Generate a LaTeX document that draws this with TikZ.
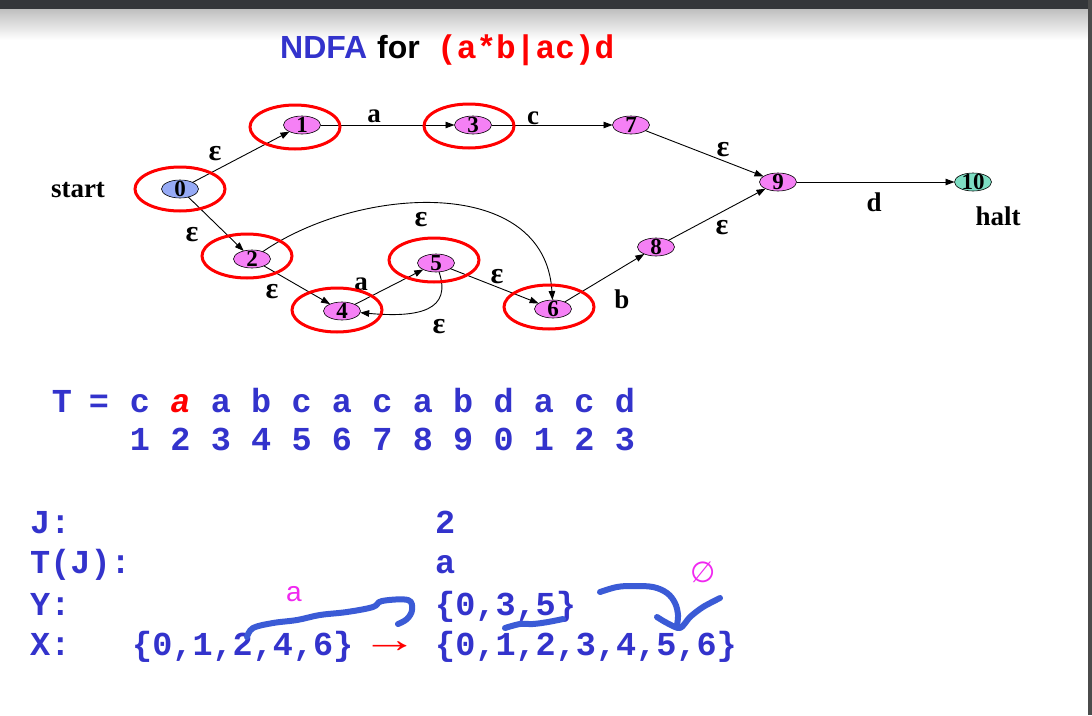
\documentclass[tikz,border=0pt]{standalone}
\usepackage{fontspec}
\setmainfont{Liberation Serif}
\newfontfamily\sansf{Liberation Sans}
\newfontfamily\monof{Liberation Mono}
\newfontfamily\dejavu{DejaVu Sans}
\usetikzlibrary{shapes.geometric,arrows.meta}

\definecolor{tblue}{RGB}{51,51,204}
\definecolor{penblue}{RGB}{59,91,214}
\definecolor{stfill}{RGB}{245,128,245}
\definecolor{startfill}{RGB}{150,170,245}
\definecolor{haltfill}{RGB}{125,222,195}
\definecolor{mag}{RGB}{240,40,240}
\definecolor{topbar}{RGB}{52,54,58}
\definecolor{sidebar}{RGB}{75,75,75}

% state number centred in a zero-size box so the ellipse keeps its size
\newcommand{\numtxt}[1]{\makebox[0pt]{\raisebox{-0.34em}[0pt][0pt]{#1}}}

\tikzset{
  state/.style={ellipse, draw=black, line width=0.6pt, fill=stfill,
    minimum width=37pt, minimum height=18pt, inner sep=0pt, outer sep=0pt,
    font=\fontsize{23}{23}\selectfont\bfseries, text=black},
  ring/.style={ellipse, draw=red, line width=3pt, minimum width=90pt,
    minimum height=44pt, inner sep=0pt},
  arr/.style={line width=0.9pt, -{Triangle[length=9pt,width=6.5pt]}},
  lbl/.style={font=\fontsize{27}{27}\selectfont\bfseries, inner sep=0pt},
  eps/.style={font=\fontsize{30}{30}\selectfont\bfseries, inner sep=0pt},
  mono/.style={font=\fontsize{33.5}{33.5}\monof\bfseries, text=tblue, inner sep=0pt},
  pen/.style={penblue, line width=6pt, line cap=round, line join=round},
}

\begin{document}
\begin{tikzpicture}[x=1pt,y=-1pt]
\useasboundingbox (0,0) rectangle (1092,715);

% window frame
\fill[white] (0,0) rectangle (1092,715);
\shade[top color=black!25, bottom color=white] (0,9) rectangle (1088,40);
\fill[topbar] (0,0) rectangle (1092,9);
\fill[sidebar] (1088,0) rectangle (1092,715);

% title
\node[anchor=base west, inner sep=0pt, text=tblue,
  font=\fontsize{32}{32}\sansf\bfseries] (tN) at (280,58.5) {NDFA};
\node[anchor=base west, inner sep=0pt, text=black,
  font=\fontsize{32}{32}\sansf\bfseries] (tF) at (377,58.5) {for};
\node[anchor=base west, inner sep=0pt, text=red,
  font=\fontsize{32.8}{32.8}\monof\bfseries] (tR) at (437,58.5) {(a*b|ac)d};

% automaton states
\node[state, fill=startfill] (n0) at (180,189) {\numtxt{0}};
\node[state] (n1) at (302,125) {\numtxt{1}};
\node[state] (n3) at (473,125) {\numtxt{3}};
\node[state] (n7) at (631,125) {\numtxt{7}};
\node[state] (n9) at (778,182) {\numtxt{9}};
\node[state, fill=haltfill] (n10) at (973,182) {\numtxt{10}};
\node[state] (n2) at (252,259) {\numtxt{2}};
\node[state] (n4) at (342,311) {\numtxt{4}};
\node[state] (n5) at (436,263) {\numtxt{5}};
\node[state] (n6) at (553,309) {\numtxt{6}};
\node[state] (n8) at (656,247) {\numtxt{8}};

% transitions
\draw[arr] (n0) -- (n1);
\draw[arr] (n0) -- (n2);
\draw[arr] (n1) -- (n3);
\draw[arr] (n3) -- (n7);
\draw[arr] (n7) -- (n9);
\draw[arr] (n9) -- (n10);
\draw[arr] (n2) -- (n4);
\draw[arr] (n4) -- (n5);
\draw[arr] (n5) -- (n6);
\draw[arr] (n6) -- (n8);
\draw[arr] (n8) -- (n9);
\draw[arr] (n2) .. controls (360,185) and (545,175) .. (n6);
\draw[arr] (n5) .. controls (452,310) and (420,318) .. (n4);

% transition labels
\node[eps] (e01) at (215,154) {ε};
\node[eps] (e02) at (192,235) {ε};
\node[eps] (e24) at (272,292) {ε};
\node[eps] (e26) at (421,220) {ε};
\node[eps] (e56) at (497,277) {ε};
\node[eps] (e54) at (439,327) {ε};
\node[eps] (e79) at (723,150) {ε};
\node[eps] (e89) at (722,228) {ε};
\node[lbl] (a13) at (374,116) {a};
\node[lbl] (a45) at (361,284) {a};
\node[lbl] (c37) at (533,118) {c};
\node[lbl] (b68) at (622,299) {b};
\node[lbl] (d910) at (874,202) {d};
\node[lbl] (startl) at (78,190) {start};
\node[lbl] (haltl) at (998,216) {halt};

% highlighted state set
\node[ring] (r0) at (180,189) {};
\node[ring] (r1) at (295,127) {};
\node[ring] (r3) at (469,126) {};
\node[ring] (r2) at (247,256) {};
\node[ring] (r4) at (337,310) {};
\node[ring] (r5) at (434,260) {};
\node[ring] (r6) at (549,307) {};

% input text and positions
\node[mono, anchor=base] (tT) at (62,412) {T};
\node[mono, anchor=base] (tEq) at (99,412) {=};
\foreach \ch [count=\i from 0] in {c,a,a,b,c,a,c,a,b,d,a,c,d} {
  \ifnum\i=1\relax\else
    \node[mono, anchor=base] (t\i) at (140+40.4*\i,412) {\ch};
  \fi
}
\node[mono, anchor=base, text=red, font=\fontsize{33.5}{33.5}\monof\bfseries\itshape]
  (t1) at (180.4,412) {a};
\foreach \d [count=\i from 0] in {1,2,3,4,5,6,7,8,9,0,1,2,3}
  \node[mono, anchor=base] (p\i) at (140+40.4*\i,450) {\d};

% variables of the simulation step
\node[mono, anchor=base west] (jl) at (30,533) {J:};
\node[mono, anchor=base west] (tjl) at (30,573) {T(J):};
\node[mono, anchor=base west] (yl) at (30,615) {Y:};
\node[mono, anchor=base west] (xl) at (30,655) {X:};
\node[mono, anchor=base west] (jv) at (435,533) {2};
\node[mono, anchor=base west] (tjv) at (435,573) {a};
\node[mono, anchor=base west] (yv) at (435,615) {\{0,3,5\}};
\node[mono, anchor=base west] (xv) at (435,655) {\{0,1,2,3,4,5,6\}};
\node[mono, anchor=base west] (xold) at (132,655) {\{0,1,2,4,6\}};
\node[inner sep=0pt, text=red, font=\fontsize{38}{38}\sansf] (xarr) at (390,647) {\scalebox{1.5}[1]{→}};
\node[inner sep=0pt, text=mag, font=\fontsize{28}{28}\sansf] (ya) at (294,594) {a};
\node[inner sep=0pt, text=mag, font=\fontsize{29}{29}\dejavu] (yempty) at (703,572) {∅};

% pen annotations
\draw[pen] plot[smooth, tension=0.6] coordinates {(247,637) (253,628) (273,623) (297,620) (320,615) (347,612) (373,607) (382,601) (408,600) (412,610) (407,619) (398,624)};
\draw[pen] plot[smooth, tension=0.6] coordinates {(505,628) (520,624) (533,624) (548,622) (563,619)};
\draw[pen] plot[smooth, tension=0.6] coordinates {(600,592) (617,587) (633,586) (653,587) (667,593) (675,603) (678,615) (677,625)};
\draw[pen] plot[smooth, tension=0.5] coordinates {(657,617) (667,623) (680,628) (690,617) (703,607) (720,598)};
\end{tikzpicture}
\end{document}
